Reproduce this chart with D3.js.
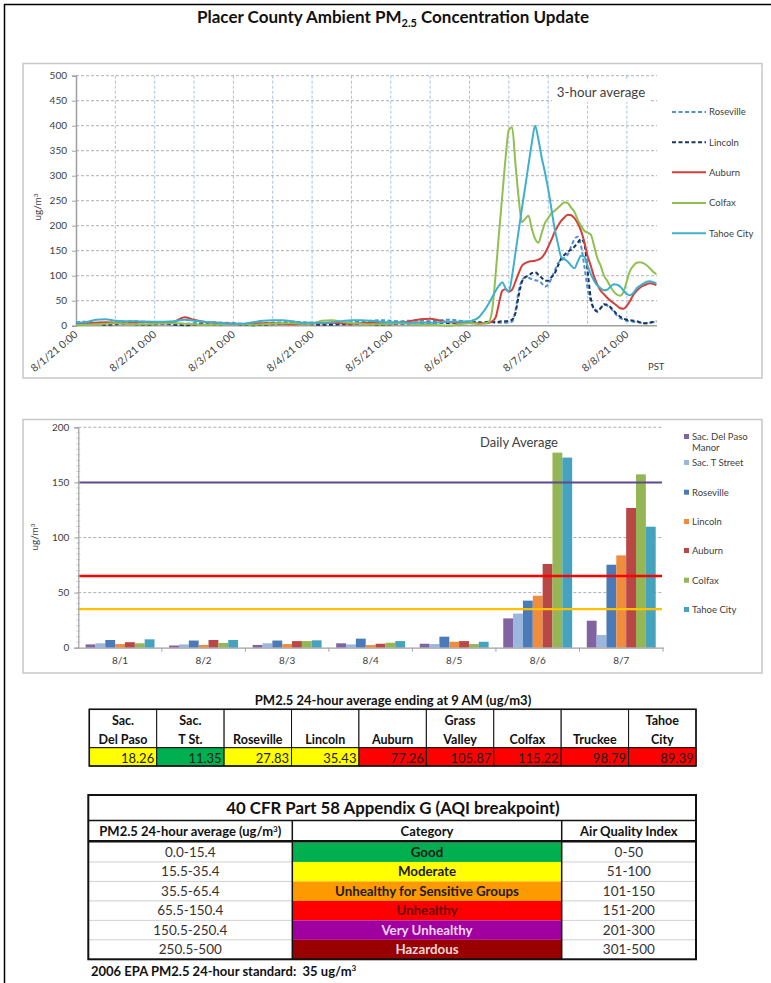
<!DOCTYPE html>
<html><head><meta charset="utf-8">
<script src="https://cdn.jsdelivr.net/npm/d3@7"></script>
<style>body{margin:0;background:#fff}svg{display:block}</style>
</head><body><svg id="c" width="771" height="983"></svg>
<script>
// ---------- DATA ----------
// top chart: 3-hour average, hours since 8/1/21 0:00 PST
const hours = d3.range(0, 120, 3).concat(d3.range(120, 178, 1));
const dayTickHours = [0, 24, 48, 72, 96, 120, 144, 168];
const dayTickLabels = ["8/1/21 0:00","8/2/21 0:00","8/3/21 0:00","8/4/21 0:00","8/5/21 0:00","8/6/21 0:00","8/7/21 0:00","8/8/21 0:00"];
const yTicksTop = [0,50,100,150,200,250,300,350,400,450,500];

const roseville = [7,8,6,5,7,8,9,8,7,6,5,4,5,6,7,6,5,4,4,5,6,7,8,7,6,5,5,6,7,8,10,11,10,9,10,10,9,11,12,10,
  8,8,7,6,6,7,7,7,6,6, 6,6,7,8,30,70,90,97,96,93, 91,90,85,78,82,95,110,125,130,136,
  143,158,173,178,160,120,75,48,35,30, 35,42,40,35,28,20,15,12,10,9, 8,7,6,5,5,6,7,8];
const lincoln = [3,5,4,2,3,4,3,2,3,4,2,1,2,3,2,3,4,2,1,2,3,4,5,4,3,2,2,3,3,4,3,2,3,4,4,5,6,6,5,6,
  6,6,7,7,6,7,8,8,7,8, 9,9,10,12,25,60,88,97,100,105, 107,102,96,90,90,97,105,120,135,142,
  148,152,158,166,173,165,110,55,33,28, 35,43,42,37,30,23,18,14,12,11, 10,9,7,5,5,6,8,9];
const auburn = [4,5,6,7,6,5,7,8,6,5,8,17,12,8,6,5,4,3,4,5,5,4,3,4,5,5,6,5,4,5,6,5,4,6,9,13,14,10,7,6,
  6,5,5,5,5,5,6,9,17,45, 70,73,68,72,88,105,120,125,128,129, 130,132,136,145,158,172,188,200,210,217,
  222,221,215,205,190,168,140,120,98,82, 70,63,56,50,45,40,35,34,40,50, 62,70,76,80,83,85,84,81];
const colfax = [1,2,3,4,5,4,3,3,4,5,5,4,3,2,2,3,4,3,2,3,4,5,5,4,4,10,11,8,5,4,3,3,4,5,4,3,2,1,0,3,
  5,5,4,3,4,5,8,35,105,185, 260,335,392,397,325,255,207,214,220,194, 174,166,185,205,215,225,230,236,242,247,
  245,236,228,212,200,190,186,182,160,135, 120,100,90,78,68,62,60,68,90,110, 120,126,127,125,121,115,108,103];
const tahoeCity = [6,7,12,13,10,9,9,8,8,8,9,12,10,8,7,5,4,4,7,10,11,11,9,6,6,6,7,9,11,11,10,8,7,7,6,7,6,7,8,8,
  9,11,13,18,26,35,46,58,70,80, 87,75,68,100,145,190,235,278,322,365, 400,373,337,307,273,233,193,163,137,133,
  128,120,115,128,140,138,120,103,90,80, 75,71,72,78,83,82,78,70,63,61, 66,75,80,84,88,89,87,85];

// bottom chart: daily average
const days = ["8/1","8/2","8/3","8/4","8/5","8/6","8/7"];
const sacDelPaso   = [3,2,2.5,4,3.6,26.6,24.5];
const sacTStreet   = [4,3,4,3,3.3,31,11.5];
const rosevilleDay = [7,6.5,6.5,8.2,10,42.7,75.3];
const lincolnDay   = [3.3,2.5,3.3,2.4,5.4,47.2,83.8];
const auburnDay    = [5,7,6,3.6,6,76,126.8];
const colfaxDay    = [4,4.3,6,4.5,3.3,177,157.3];
const tahoeDay     = [7.6,7,6.7,6,5.4,172.5,109.8];
const yTicksBottom = [0,50,100,150,200];
const refLevels = [150, 65, 35];

// table 1
const t1Headers = [["Sac.","Del Paso"],["Sac.","T St."],["Roseville"],["Lincoln"],["Auburn"],["Grass","Valley"],["Colfax"],["Truckee"],["Tahoe","City"]];
const t1Values = [18.26,11.35,27.83,35.43,77.26,105.87,115.22,98.79,89.39];
const t1Levels = ["moderate","good","moderate","moderate","unhealthy","unhealthy","unhealthy","unhealthy","unhealthy"];

// table 2
const aqiRanges = ["0.0-15.4","15.5-35.4","35.5-65.4","65.5-150.4","150.5-250.4","250.5-500"];
const aqiCategories = ["Good","Moderate","Unhealthy for Sensitive Groups","Unhealthy","Very Unhealthy","Hazardous"];
const aqiIndex = ["0-50","51-100","101-150","151-200","201-300","301-500"];

// ---------- DRAW ----------
const F = "Lato, 'Liberation Sans', sans-serif";
const svg = d3.select('#c').attr('font-family', F);

svg.append('line').attr('x1',4.5).attr('y1',4).attr('x2',4.5).attr('y2',983).attr('stroke','#000').attr('stroke-width',1.5);
svg.append('line').attr('x1',4).attr('y1',4.5).attr('x2',771).attr('y2',4.5).attr('stroke','#000').attr('stroke-width',1.5);

const title = svg.append('text').attr('x',393).attr('y',23).attr('text-anchor','middle')
  .attr('font-weight','bold').attr('font-size',17).attr('fill','#111');
title.append('tspan').text('Placer County Ambient PM');
title.append('tspan').attr('font-size',11).attr('dy',3.5).text('2.5');
title.append('tspan').attr('dy',-3.5).text(' Concentration Update');

// ---- top chart ----
svg.append('rect').attr('x',23).attr('y',63.5).attr('width',739).attr('height',314.5)
  .attr('fill','#fff').attr('stroke','#c8c8c8').attr('stroke-width',1.5);

const xT = d3.scaleLinear().domain([0,177]).range([76,656.4]);
const yT = d3.scaleLinear().domain([0,500]).range([325.7,75.7]);
const gT = svg.append('g');

gT.selectAll('.hg').data(yTicksTop.slice(1)).join('line')
  .attr('x1',76).attr('x2',657).attr('y1',d=>yT(d)).attr('y2',d=>yT(d))
  .attr('stroke','#9a9a9a').attr('stroke-width',0.8).attr('stroke-dasharray','3,2');
gT.selectAll('.vg').data(d3.range(12,169,12)).join('line')
  .attr('x1',d=>xT(d)).attr('x2',d=>xT(d)).attr('y1',75.7).attr('y2',325.7)
  .attr('stroke','#8db3e2').attr('stroke-width',0.8).attr('stroke-dasharray','3,2');

const yAxT = gT.append('g').attr('transform','translate(76,0)')
  .call(d3.axisLeft(yT).tickValues(yTicksTop).tickSize(4).tickPadding(5));
yAxT.select('.domain').attr('stroke','#a0a0a0').attr('stroke-width',1.5);
yAxT.selectAll('line').attr('stroke','#a0a0a0');
yAxT.selectAll('text').attr('font-family',F).attr('font-size',10).attr('fill','#404040');

const xAxT = gT.append('g').attr('transform','translate(0,325.7)')
  .call(d3.axisBottom(xT).tickValues(dayTickHours).tickFormat((d,i)=>dayTickLabels[i]).tickSize(0).tickPadding(0));
xAxT.select('.domain').attr('stroke','#a0a0a0').attr('stroke-width',1.5).attr('d','M76,0H657');
xAxT.selectAll('text').attr('font-family',F).attr('font-size',10.5).attr('fill','#404040')
  .attr('text-anchor','end').attr('dy',0).attr('transform','translate(2,10) rotate(-40)');

const yl = gT.append('text').attr('transform','translate(41,207) rotate(-90)').attr('text-anchor','middle')
  .attr('font-size',10).attr('fill','#404040');
yl.append('tspan').text('ug/m');
yl.append('tspan').attr('font-size',6.5).attr('dy',-3).text('3');

const seriesTop = [
  {name:'Roseville', v:roseville, c:'#558ed5', dash:'4,2.5'},
  {name:'Lincoln', v:lincoln, c:'#17375e', dash:'4,2.5'},
  {name:'Auburn', v:auburn, c:'#d43f3a', dash:null},
  {name:'Colfax', v:colfax, c:'#92c050', dash:null},
  {name:'Tahoe City', v:tahoeCity, c:'#3fb0cc', dash:null}
];
const lineGen = d3.line().x((d,i)=>xT(hours[i])).y(d=>yT(d)).curve(d3.curveMonotoneX);
seriesTop.forEach(s=>{
  gT.append('path').attr('d',lineGen(s.v)).attr('fill','none').attr('stroke',s.c)
    .attr('stroke-width',2).attr('stroke-dasharray',s.dash);
});

gT.append('rect').attr('x',552).attr('y',81).attr('width',98).attr('height',21).attr('fill','#fff');
gT.append('text').attr('x',601).attr('y',97).attr('text-anchor','middle').attr('font-size',13.3)
  .attr('fill','#404040').text('3-hour average');
gT.append('text').attr('x',648).attr('y',370).attr('font-size',9.5).attr('fill','#404040').text('PST');

const legTY = [112,142.3,172.3,203,233.3];
seriesTop.forEach((s,i)=>{
  gT.append('line').attr('x1',672).attr('x2',706).attr('y1',legTY[i]).attr('y2',legTY[i])
    .attr('stroke',s.c).attr('stroke-width',2).attr('stroke-dasharray',s.dash);
  gT.append('text').attr('x',709).attr('y',legTY[i]+3.3).attr('font-size',9.5).attr('fill','#404040').text(s.name);
});

// ---- bottom chart ----
svg.append('rect').attr('x',23).attr('y',419.5).attr('width',739).attr('height',253.5)
  .attr('fill','#fff').attr('stroke','#c8c8c8').attr('stroke-width',1.5);
const gB = svg.append('g');
const xB = d3.scaleBand().domain(days).range([78.3,663]);
const yB = d3.scaleLinear().domain([0,200]).range([647.7,427.3]);
const seriesBot = [
  {name:'Sac. Del Paso Manor', lines:['Sac. Del Paso','Manor'], v:sacDelPaso, c:'#8064a2'},
  {name:'Sac. T Street', lines:['Sac. T Street'], v:sacTStreet, c:'#9bb7de'},
  {name:'Roseville', lines:['Roseville'], v:rosevilleDay, c:'#4a7ab8'},
  {name:'Lincoln', lines:['Lincoln'], v:lincolnDay, c:'#f08c3e'},
  {name:'Auburn', lines:['Auburn'], v:auburnDay, c:'#b94745'},
  {name:'Colfax', lines:['Colfax'], v:colfaxDay, c:'#94b655'},
  {name:'Tahoe City', lines:['Tahoe City'], v:tahoeDay, c:'#45a3bd'}
];
const gap = 7.3;
const xInner = d3.scaleBand().domain(seriesBot.map(s=>s.name)).range([gap, xB.bandwidth()-gap]);

gB.selectAll('.hgb').data(yTicksBottom.slice(1)).join('line')
  .attr('x1',78.3).attr('x2',663).attr('y1',d=>yB(d)).attr('y2',d=>yB(d))
  .attr('stroke','#9a9a9a').attr('stroke-width',0.8).attr('stroke-dasharray','3,2');

seriesBot.forEach(s=>{
  gB.selectAll(null).data(s.v).join('rect')
    .attr('x',(d,i)=>xB(days[i])+xInner(s.name)).attr('width',xInner.bandwidth())
    .attr('y',d=>yB(d)).attr('height',d=>yB(0)-yB(d)).attr('fill',s.c);
});

const refColors = ['#5f4a8b','#ff0000','#ffc000'];
const refWidths = [2,2.5,2.2];
refLevels.forEach((r,i)=>{
  gB.append('line').attr('x1',78.3).attr('x2',662).attr('y1',yB(r)).attr('y2',yB(r))
    .attr('stroke',refColors[i]).attr('stroke-width',refWidths[i]);
});

const yAxB = gB.append('g').attr('transform','translate(78.3,0)')
  .call(d3.axisLeft(yB).tickValues(yTicksBottom).tickSize(4).tickPadding(5));
yAxB.select('.domain').attr('stroke','#a0a0a0').attr('stroke-width',1.2);
yAxB.selectAll('line').attr('stroke','#a0a0a0');
yAxB.selectAll('text').attr('font-family',F).attr('font-size',10).attr('fill','#404040');
gB.selectAll('.mt').data(d3.range(5,200,5)).join('line')
  .attr('x1',76.3).attr('x2',80.3).attr('y1',d=>yB(d)).attr('y2',d=>yB(d))
  .attr('stroke','#b0b0b0').attr('stroke-width',0.6);

const xAxB = gB.append('g').attr('transform','translate(0,647.7)')
  .call(d3.axisBottom(xB).tickSize(0).tickPadding(9));
xAxB.select('.domain').attr('stroke','#a0a0a0').attr('stroke-width',1.2);
xAxB.selectAll('text').attr('font-family',F).attr('font-size',10).attr('fill','#404040');
gB.selectAll('.bt').data(days.slice(1).concat(['end'])).join('line')
  .attr('x1',(d,i)=>xB.range()[0]+xB.step()*(i+1)).attr('x2',(d,i)=>xB.range()[0]+xB.step()*(i+1))
  .attr('y1',647.7).attr('y2',651.7).attr('stroke','#a0a0a0');

const ylB = gB.append('text').attr('transform','translate(38,537) rotate(-90)').attr('text-anchor','middle')
  .attr('font-size',10).attr('fill','#404040');
ylB.append('tspan').text('ug/m');
ylB.append('tspan').attr('font-size',6.5).attr('dy',-3).text('3');

gB.append('text').attr('x',519).attr('y',447).attr('text-anchor','middle').attr('font-size',13)
  .attr('fill','#404040').text('Daily Average');

const legBY = [437,463,492.7,522,551,580.7,610];
seriesBot.forEach((s,i)=>{
  gB.append('rect').attr('x',684).attr('y',legBY[i]-3).attr('width',5).attr('height',5).attr('fill',s.c);
  s.lines.forEach((l,j)=>{
    gB.append('text').attr('x',692).attr('y',legBY[i]+3.3+j*11).attr('font-size',9.5).attr('fill','#404040').text(l);
  });
});

// ---- table 1 ----
const g1 = svg.append('g');
g1.append('text').attr('x',393).attr('y',704.5).attr('text-anchor','middle').attr('font-weight','bold')
  .attr('font-size',13).attr('fill','#111').text('PM2.5 24-hour average ending at 9 AM (ug/m3)');
const c1x = d3.scaleLinear().domain([0,9]).range([89.3,696]);
const levelFill = {good:'#00b050', moderate:'#ffff00', usg:'#ff9900', unhealthy:'#ff0000'};
t1Values.forEach((v,i)=>{
  const x0 = c1x(i), w = c1x(i+1)-c1x(i);
  g1.append('rect').attr('x',x0).attr('y',709.3).attr('width',w).attr('height',38.4)
    .attr('fill','#fff').attr('stroke','#111').attr('stroke-width',1);
  g1.append('rect').attr('x',x0).attr('y',747.7).attr('width',w).attr('height',18.3)
    .attr('fill',levelFill[t1Levels[i]]).attr('stroke','#111').attr('stroke-width',1);
  const h = t1Headers[i];
  h.forEach((line,j)=>{
    g1.append('text').attr('x',x0+w/2).attr('y', h.length===2 ? 724.5+j*19 : 743.5)
      .attr('text-anchor','middle').attr('font-weight','bold').attr('font-size',12.5).attr('fill','#111').text(line);
  });
  g1.append('text').attr('x',x0+w-2.5).attr('y',762.5).attr('text-anchor','end')
    .attr('font-size',13).attr('fill','#222').text(v.toFixed(2));
});
g1.append('rect').attr('x',89.3).attr('y',709.3).attr('width',606.7).attr('height',56.7)
  .attr('fill','none').attr('stroke','#111').attr('stroke-width',1.5);

// ---- table 2 ----
const g2 = svg.append('g');
const colX = [88.3, 292.3, 561.7, 696];
const rowY = d3.scaleLinear().domain([0,6]).range([842.5,959.3]);
const catFill = ['#00b050','#ffff00','#ff9900','#ff0000','#a0009f','#990000'];
const catText = ['#1c1c1c','#1c1c1c','#1c1c1c','#6e0000','#f3d6f3','#f2dada'];
g2.append('rect').attr('x',88.3).attr('y',795).attr('width',607.7).attr('height',164.3).attr('fill','#fff');
aqiRanges.forEach((r,i)=>{
  const y0 = rowY(i), y1 = rowY(i+1);
  g2.append('rect').attr('x',colX[1]).attr('y',y0).attr('width',colX[2]-colX[1]).attr('height',y1-y0).attr('fill',catFill[i]);
  if (i>0) {
    g2.append('line').attr('x1',colX[0]).attr('x2',colX[1]).attr('y1',y0).attr('y2',y0).attr('stroke','#d0d0d0');
    g2.append('line').attr('x1',colX[2]).attr('x2',colX[3]).attr('y1',y0).attr('y2',y0).attr('stroke','#d0d0d0');
  }
  const ym = (y0+y1)/2 + 4.5;
  g2.append('text').attr('x',(colX[0]+colX[1])/2).attr('y',ym).attr('text-anchor','middle')
    .attr('font-size',13.5).attr('fill','#333').text(r);
  g2.append('text').attr('x',(colX[1]+colX[2])/2).attr('y',ym).attr('text-anchor','middle')
    .attr('font-size',13.3).attr('font-weight','bold').attr('fill',catText[i]).text(aqiCategories[i]);
  g2.append('text').attr('x',(colX[2]+colX[3])/2).attr('y',ym).attr('text-anchor','middle')
    .attr('font-size',13.5).attr('fill','#333').text(aqiIndex[i]);
});
g2.append('text').attr('x',393).attr('y',814).attr('text-anchor','middle').attr('font-weight','bold')
  .attr('font-size',16.8).attr('fill','#111').text('40 CFR Part 58 Appendix G (AQI breakpoint)');
const hd = g2.append('text').attr('x',(colX[0]+colX[1])/2).attr('y',836).attr('text-anchor','middle')
  .attr('font-weight','bold').attr('font-size',13).attr('fill','#111');
hd.append('tspan').text('PM2.5 24-hour average (ug/m');
hd.append('tspan').attr('font-size',8).attr('dy',-4.5).text('3');
hd.append('tspan').attr('dy',4.5).text(')');
g2.append('text').attr('x',(colX[1]+colX[2])/2).attr('y',836).attr('text-anchor','middle')
  .attr('font-weight','bold').attr('font-size',13).attr('fill','#111').text('Category');
g2.append('text').attr('x',(colX[2]+colX[3])/2).attr('y',836).attr('text-anchor','middle')
  .attr('font-weight','bold').attr('font-size',13).attr('fill','#111').text('Air Quality Index');
g2.append('line').attr('x1',88.3).attr('x2',696).attr('y1',820.5).attr('y2',820.5).attr('stroke','#111').attr('stroke-width',1.5);
g2.append('line').attr('x1',88.3).attr('x2',696).attr('y1',841.3).attr('y2',841.3).attr('stroke','#111').attr('stroke-width',2.5);
[colX[1],colX[2]].forEach(x=>{
  g2.append('line').attr('x1',x).attr('x2',x).attr('y1',820.5).attr('y2',959.3).attr('stroke','#111').attr('stroke-width',1.5);
});
g2.append('rect').attr('x',88.3).attr('y',795).attr('width',607.7).attr('height',164.3)
  .attr('fill','none').attr('stroke','#111').attr('stroke-width',2);
const fn = g2.append('text').attr('x',91).attr('y',975.5).attr('font-weight','bold').attr('font-size',13)
  .attr('fill','#111').style('white-space','pre');
fn.append('tspan').text('2006 EPA PM2.5 24-hour standard:  35 ug/m');
fn.append('tspan').attr('font-size',8).attr('dy',-4.5).text('3');
</script></body></html>
